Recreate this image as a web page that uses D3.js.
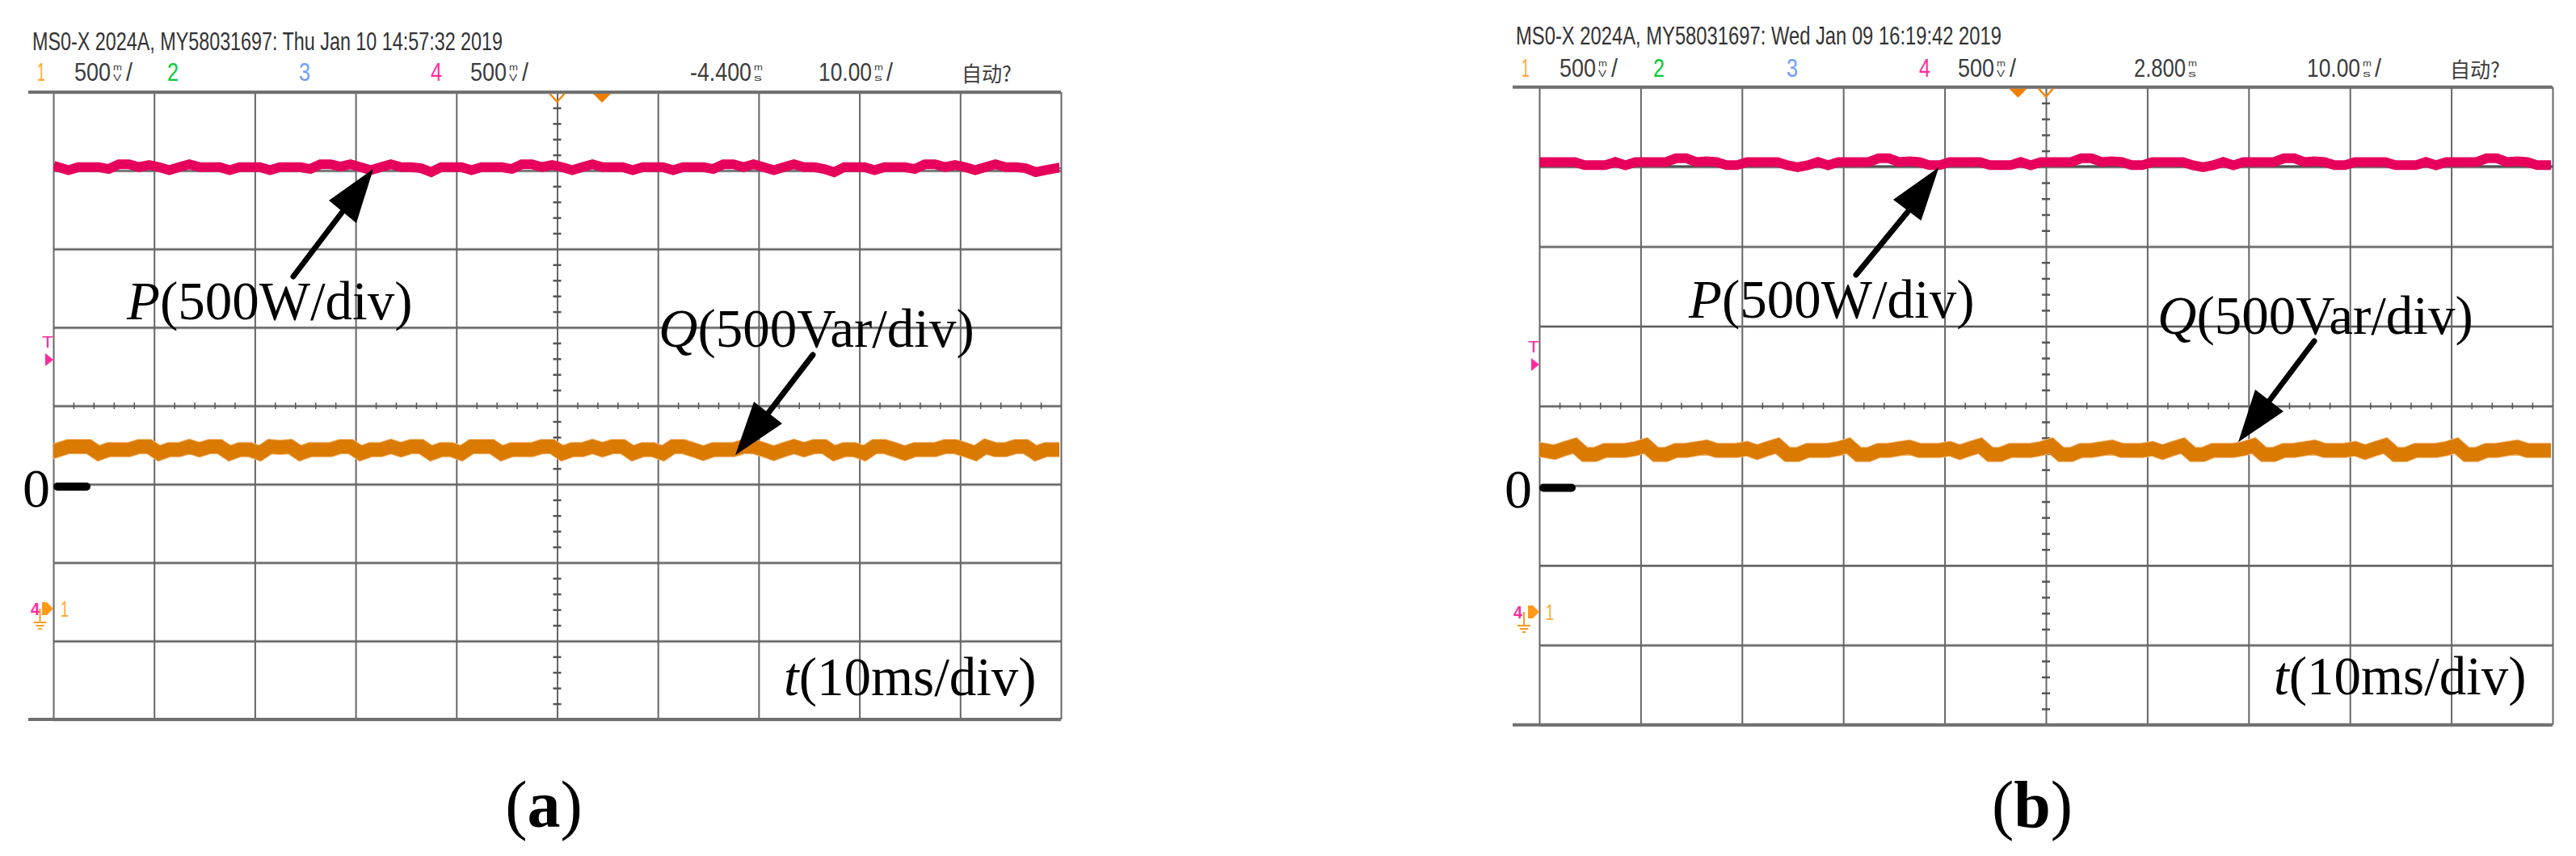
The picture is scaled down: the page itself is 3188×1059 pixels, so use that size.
<!DOCTYPE html>
<html>
<head>
<meta charset="utf-8">
<script src="https://cdn.jsdelivr.net/npm/d3@7"></script>
<style>
  html, body { margin: 0; background: #fff; }
  svg { display: block; }
  .domain { display: none; }
</style>
</head>
<body>
<svg width="3188" height="1059"></svg>
<script>
// scope settings
var timeDivs = d3.range(0, 11);                 // 10 ms/div
var timeMinor = d3.range(0, 10.01, 0.2).filter(function(d) { return Math.round(d * 10) % 10 != 0; });
var powerMajor = d3.range(0, 9).map(function(d) { return 2515 - 500 * d; });   // 500 W/div
var powerMinor = d3.range(0, 41).filter(function(d) { return d % 5 != 0; }).map(function(d) { return 2515 - 100 * d; });

// sample position in div, one reading every 0.1 div
var sampleDivs = d3.range(0, 100).map(function(d) { return d / 10 + 0.05; });

// panel (a), active power in W
var pA = [2037,2018,2037,2037,2037,2025,2055,2055,2037,2050,2037,2018,2037,2055,2037,2037,2037,2018,2037,2037,
          2037,2018,2037,2037,2037,2025,2055,2055,2040,2055,2037,2018,2037,2055,2037,2037,2030,2005,2037,2037,
          2037,2018,2037,2037,2037,2025,2055,2055,2037,2050,2037,2018,2037,2055,2037,2037,2037,2018,2037,2037,
          2037,2018,2037,2037,2037,2025,2055,2055,2037,2055,2037,2018,2037,2055,2037,2037,2025,2005,2037,2037,
          2037,2018,2037,2037,2037,2025,2055,2055,2037,2050,2037,2018,2037,2055,2037,2037,2030,2005,2018,2030];
// panel (a), reactive power in Var
var qA = [235,255,255,255,212,235,235,235,255,255,212,235,235,255,235,255,255,212,235,235,
          212,255,250,255,212,235,235,235,255,255,212,235,235,255,235,255,255,212,235,235,
          212,255,255,255,212,235,235,235,255,255,212,235,235,255,235,255,255,212,235,235,
          212,255,255,235,212,235,235,235,255,255,235,212,235,255,235,255,255,212,235,235,
          212,255,255,235,212,235,235,235,255,255,235,212,255,235,235,255,255,212,235,235];
// panel (b), active power in W
var pB = [2045,2045,2045,2045,2025,2025,2025,2045,2025,2045,2045,2045,2045,2068,2068,2045,2050,2045,2025,2025,
          2045,2045,2045,2045,2025,2012,2025,2045,2025,2045,2045,2045,2045,2068,2068,2045,2050,2045,2025,2025,
          2045,2045,2045,2045,2025,2025,2025,2045,2025,2045,2045,2045,2045,2068,2068,2045,2050,2045,2025,2025,
          2045,2045,2045,2045,2025,2012,2025,2045,2025,2045,2045,2045,2045,2068,2068,2045,2050,2045,2025,2025,
          2045,2045,2045,2045,2025,2025,2025,2045,2025,2045,2045,2045,2045,2068,2068,2045,2050,2045,2025,2025];
// panel (b), reactive power in Var
var qB = [236,225,247,266,210,210,236,236,236,247,266,210,210,236,236,247,256,236,236,236,
          247,225,247,266,210,210,236,236,236,247,266,210,210,236,236,247,256,236,236,236,
          247,225,247,266,210,210,236,236,236,247,266,210,210,236,236,247,256,236,236,236,
          247,225,247,266,210,210,236,236,236,247,266,210,210,236,236,247,256,236,236,236,
          247,225,247,266,210,210,236,236,236,247,266,210,210,236,236,247,256,236,236,236];

var titleA = 'MS0-X 2024A, MY58031697: Thu Jan 10 14:57:32 2019';
var titleB = 'MS0-X 2024A, MY58031697: Wed Jan 09 16:19:42 2019';
var channelNames = ['1', '2', '3', '4'];
var channelColors = ['#ffa733', '#00cc33', '#6f9bff', '#ff2aa0'];

var panels = [
  {
    left: 66, right: 1313, top: 114, bottom: 890, edge: 35, title: titleA, titleX: 40, titleW: 582, titleY: 62, rowY: 100,
    chanX: [46, 207, 370, 533], voltX: [92, 582], delay: '-4.400', delayX: 854, delayW: 76,
    scaleX: 1013, autoX: 1190, filled: 745,
    p: pA, q: qA, pRef: 2030,
    pText: [157, 395], qText: [815, 429], tText: [970, 860], zeroX: 28, zeroY: 627, mark: [66, 112, 602],
    trigY: 415, groundY: 745, fourX: 38, stemX: 49.5, oneX: 75,
    pArrow: { tail: [363, 342], neck: [423, 263], a: [407, 248], b: [441, 276], tip: [462, 209] },
    qArrow: { tail: [1006, 439], neck: [950, 512], a: [933, 497], b: [968, 524], tip: [910, 563] },
    name: 'a', nameX: 673
  },
  {
    left: 1905, right: 3159, top: 107.7, bottom: 896.7, edge: 1872, title: titleB, titleX: 1876, titleW: 601, titleY: 55, rowY: 95,
    chanX: [1883, 2046, 2211, 2375], voltX: [1930, 2423], delay: '2.800', delayX: 2641, delayW: 64,
    scaleX: 2855, autoX: 3032, filled: 2497.5,
    p: pB, q: qB, pRef: 2020,
    pText: [2090, 393], qText: [2670, 413], tText: [2814, 859], zeroX: 1862, zeroY: 628, mark: [1905, 1950, 603.5],
    trigY: 421, groundY: 749, fourX: 1873, stemX: 1886, oneX: 1913,
    pArrow: { tail: [2297, 340], neck: [2361, 262], a: [2343, 247], b: [2377.5, 273], tip: [2399.5, 207] },
    qArrow: { tail: [2864, 422], neck: [2809, 495], a: [2791, 482], b: [2826, 509], tip: [2770, 547] },
    name: 'b', nameX: 2515
  }
];

var svg = d3.select('svg');

// narrow scope lettering
function scopeText(g, x, y, str, w, color, size) {
  return g.append('text')
    .attr('x', x).attr('y', y)
    .attr('font-family', '"Liberation Sans", sans-serif')
    .attr('font-size', size || 31)
    .attr('fill', color || '#3c3c3c')
    .attr('textLength', w)
    .attr('lengthAdjust', 'spacingAndGlyphs')
    .text(str);
}

// small stacked unit
function stacked(g, x, y, top, bottom) {
  scopeText(g, x, y - 13, top, 11, '#3c3c3c', 10);
  scopeText(g, x, y, bottom, 10, '#3c3c3c', 10);
}

function serifLabel(g, pos, italic, rest) {
  var t = g.append('text')
    .attr('x', pos[0]).attr('y', pos[1])
    .attr('font-family', '"Liberation Serif", serif')
    .attr('font-size', 67)
    .attr('fill', '#000');
  t.append('tspan').attr('font-style', 'italic').text(italic);
  t.append('tspan').text(rest);
}

function arrow(g, d) {
  g.append('line')
    .attr('x1', d.tail[0]).attr('y1', d.tail[1])
    .attr('x2', d.neck[0]).attr('y2', d.neck[1])
    .attr('stroke', '#000').attr('stroke-width', 7).attr('stroke-linecap', 'round');
  g.append('polygon')
    .attr('points', [d.tip, d.a, d.b].join(' '))
    .attr('fill', '#000');
}

panels.forEach(function(c) {
  var g = svg.append('g');

  var x = d3.scaleLinear().domain([0, 10]).range([c.left, c.right]);
  var y = d3.scaleLinear().domain([2515, -1485]).range([c.top, c.bottom]);

  // light halo under the horizontal divisions
  var grid = g.append('g');
  grid.append('g')
    .call(d3.axisLeft(y).tickValues(powerMajor).tickSize(-(c.right - c.left)).tickFormat(''))
    .attr('transform', 'translate(' + c.left + ',0)')
    .call(function(s) { s.selectAll('line').attr('stroke', '#cfcfcf').attr('stroke-width', 4); });
  grid.append('g')
    .call(d3.axisLeft(y).tickValues(powerMajor).tickSize(-(c.right - c.left)).tickFormat(''))
    .attr('transform', 'translate(' + c.left + ',0)')
    .call(function(s) { s.selectAll('line').attr('stroke', '#5c5c5c').attr('stroke-width', 2); });
  grid.append('g')
    .call(d3.axisBottom(x).tickValues(timeDivs).tickSize(-(c.bottom - c.top)).tickFormat(''))
    .attr('transform', 'translate(0,' + c.bottom + ')')
    .call(function(s) { s.selectAll('line').attr('stroke', '#666').attr('stroke-width', 2); });

  // top and bottom frame run a bit further left
  [c.top, c.bottom].forEach(function(v) {
    g.append('line')
      .attr('x1', c.edge).attr('x2', c.right).attr('y1', v).attr('y2', v)
      .attr('stroke', '#707070').attr('stroke-width', 4);
  });

  // minor ticks on the centre axes
  g.append('g')
    .attr('transform', 'translate(' + (x(5) - 5) + ',0)')
    .call(d3.axisRight(y).tickValues(powerMinor).tickSize(10).tickFormat(''))
    .call(function(s) { s.selectAll('line').attr('stroke', '#555').attr('stroke-width', 2.5); });
  g.append('g')
    .attr('transform', 'translate(0,' + (y(515) - 4) + ')')
    .call(d3.axisBottom(x).tickValues(timeMinor).tickSize(8).tickFormat(''))
    .call(function(s) { s.selectAll('line').attr('stroke', '#555').attr('stroke-width', 1.5); });

  // traces
  var line = d3.line()
    .x(function(d, i) { return x(sampleDivs[i]); })
    .y(function(d) { return y(d); })
    .curve(d3.curveLinear);

  var clipId = 'screen-' + c.name;
  g.append('clipPath').attr('id', clipId).append('rect')
    .attr('x', c.left).attr('y', c.top).attr('width', c.right - c.left - 2).attr('height', c.bottom - c.top);

  g.append('line')
    .attr('x1', x(0)).attr('x2', x(10)).attr('y1', y(c.pRef)).attr('y2', y(c.pRef))
    .attr('stroke', '#444').attr('stroke-width', 1.5);

  var traces = g.append('g').attr('clip-path', 'url(#' + clipId + ')');
  traces.append('path').attr('d', line(c.p))
    .attr('fill', 'none').attr('stroke', '#e6005c').attr('stroke-width', 12).attr('stroke-linecap', 'square');
  traces.append('path').attr('d', line(c.q))
    .attr('fill', 'none').attr('stroke', '#f3b878').attr('stroke-width', 19).attr('stroke-linecap', 'square');
  traces.append('path').attr('d', line(c.q))
    .attr('fill', 'none').attr('stroke', '#db7a00').attr('stroke-width', 17).attr('stroke-linecap', 'square');

  // header
  scopeText(g, c.titleX, c.titleY, c.title, c.titleW, '#333', 32);
  channelNames.forEach(function(n, i) {
    scopeText(g, c.chanX[i], c.rowY, n, n == '1' ? 10 : 14, channelColors[i]);
  });
  c.voltX.forEach(function(vx) {
    scopeText(g, vx, c.rowY, '500', 45);
    stacked(g, vx + 48, c.rowY, 'm', 'V');
    scopeText(g, vx + 64, c.rowY, '/', 8);
  });
  scopeText(g, c.delayX, c.rowY, c.delay, c.delayW);
  stacked(g, c.delayX + c.delayW + 3, c.rowY, 'm', 's');
  scopeText(g, c.scaleX, c.rowY, '10.00', 66);
  stacked(g, c.scaleX + 69, c.rowY, 'm', 's');
  scopeText(g, c.scaleX + 84, c.rowY, '/', 8);
  g.append('text')
    .attr('x', c.autoX).attr('y', c.rowY + 1)
    .attr('font-family', '"Noto Sans CJK SC", sans-serif')
    .attr('font-size', 26)
    .attr('fill', '#3c3c3c')
    .attr('textLength', 62)
    .attr('lengthAdjust', 'spacingAndGlyphs')
    .text('自动?');

  // trigger and delay flags on the top edge
  g.append('path')
    .attr('d', 'M' + (x(5) - 9) + ',' + (c.top + 2) + 'L' + x(5) + ',' + (c.top + 12) + 'L' + (x(5) + 9) + ',' + (c.top + 2))
    .attr('fill', 'none').attr('stroke', '#f08a10').attr('stroke-width', 2.5);
  g.append('path')
    .attr('d', 'M' + (c.filled - 11) + ',' + (c.top + 2) + 'L' + c.filled + ',' + (c.top + 13) + 'L' + (c.filled + 11) + ',' + (c.top + 2) + 'Z')
    .attr('fill', '#f07f00');

  // trigger level flag
  scopeText(g, c.left - 14, c.trigY + 15, 'T', 14, '#ff2aa0', 21);
  g.append('path')
    .attr('d', 'M' + (c.left - 10) + ',' + (c.trigY + 22) + 'L' + c.left + ',' + (c.trigY + 30) + 'L' + (c.left - 10) + ',' + (c.trigY + 38) + 'Z')
    .attr('fill', '#ff2aa0');

  // ground flags
  var gy = c.groundY;
  scopeText(g, c.fourX, gy + 16, '4', 11, '#ff2aa0', 22).attr('font-weight', 'bold');
  g.append('path')
    .attr('d', 'M' + (c.left - 14) + ',' + gy + 'L' + (c.left - 8) + ',' + gy + 'L' + c.left + ',' + (gy + 8) + 'L' + (c.left - 8) + ',' + (gy + 16) + 'L' + (c.left - 14) + ',' + (gy + 16) + 'Z')
    .attr('fill', '#ff9a1a');
  [[c.stemX, gy + 8, c.stemX, gy + 25], [c.stemX - 8, gy + 25, c.stemX + 8, gy + 25], [c.stemX - 5, gy + 29, c.stemX + 5, gy + 29], [c.stemX - 2, gy + 33, c.stemX + 2, gy + 33]].forEach(function(l) {
    g.append('line')
      .attr('x1', l[0]).attr('y1', l[1]).attr('x2', l[2]).attr('y2', l[3])
      .attr('stroke', '#ff9a1a').attr('stroke-width', 2);
  });
  scopeText(g, c.oneX, gy + 18, '1', 10, '#ffa733', 28);

  // annotations
  arrow(g, c.pArrow);
  arrow(g, c.qArrow);
  serifLabel(g, c.pText, 'P', '(500W/div)');
  serifLabel(g, c.qText, 'Q', '(500Var/div)');
  serifLabel(g, c.tText, 't', '(10ms/div)');
  g.append('text')
    .attr('x', c.zeroX).attr('y', c.zeroY)
    .attr('font-family', '"Liberation Serif", serif').attr('font-size', 68)
    .text('0');
  g.append('line')
    .attr('x1', c.mark[0] + 5).attr('x2', c.mark[1] - 5).attr('y1', c.mark[2]).attr('y2', c.mark[2])
    .attr('stroke', '#000').attr('stroke-width', 10).attr('stroke-linecap', 'round');

  // sub figure caption
  var cap = g.append('text')
    .attr('x', c.nameX).attr('y', 1023)
    .attr('text-anchor', 'middle')
    .attr('font-family', '"Liberation Serif", serif')
    .attr('font-size', 82);
  cap.append('tspan').text('(');
  cap.append('tspan').attr('font-weight', 'bold').text(c.name);
  cap.append('tspan').text(')');
});
</script>
</body>
</html>
